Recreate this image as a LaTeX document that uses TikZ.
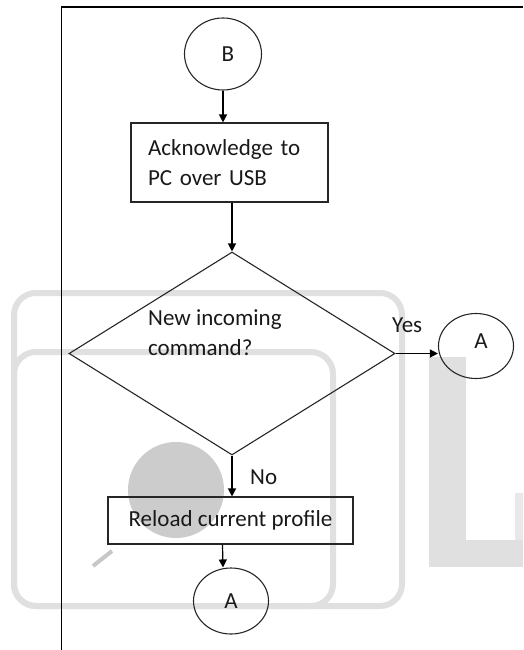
\documentclass[tikz,border=0pt]{standalone}
\usepackage{fontspec}
\setmainfont{Carlito}
\usetikzlibrary{shapes.geometric,arrows.meta,calc}
\begin{document}
\begin{tikzpicture}[x=1pt,y=-1pt,
  every node/.style={font=\fontsize{23}{30}\selectfont, text=black!90},
  shp/.style={draw=black!85, line width=1.1pt},
  proc/.style={shp, rectangle, inner sep=0pt},
  conn/.style={shp, ellipse, inner sep=0pt},
  flow/.style={draw=black, line width=1.2pt, -{Triangle[length=8pt,width=8pt]}},
  wm/.style={draw=black!12, line width=6pt, rounded corners=22pt},
  lab/.style={inner sep=0pt, anchor=base west}
]
\useasboundingbox (0,0) rectangle (523,650);
% faint watermark in the background
\fill[black!20] (176,490) circle (48pt);
\draw[wm] (14,293) rectangle (402,606);
\draw[wm] (14,352) rectangle (333,606);
\fill[black!12] (429,357) rectangle (466,567);
\fill[black!12] (466,540) rectangle (523,567);
\fill[black!9] (515,493) rectangle (523,540);
\draw[black!22, line width=4pt] (93,566) -- (112,551);
% frame
\draw[line width=1.6pt] (61.5,650) -- (61.5,7.3) -- (523,7.3);
% flowchart
\node[conn, minimum width=77pt, minimum height=72pt] (B) at (223,54) {\hspace*{10pt}B};
\node[proc, minimum width=197pt, minimum height=79pt, text width=163pt, align=left] (ack) at (229.5,162.5) {Acknowledge to\\PC over USB};
\node[diamond, shp, minimum width=326pt, minimum height=203pt, inner sep=0pt] (dec) at (232,353.5) {};
\node[lab, align=left] (dect) at (148,355) {New incoming\\command?};
\node[conn, minimum width=75pt, minimum height=65pt] (A1) at (476,346) {\hspace*{10pt}\raisebox{10pt}{A}};
\node[lab] (yes) at (392,332) {Yes};
\node[lab] (no) at (250,484) {No};
\node[proc, minimum width=245pt, minimum height=47pt] (rel) at (230.5,520.5) {Reload current profile};
\node[conn, minimum width=75pt, minimum height=66pt] (A2) at (231,601) {A};
\draw[flow] (B.south) -- (B.south |- ack.north);
\draw[flow] (dec.north |- ack.south) -- (dec.north);
\draw[flow] (dec.east) -- (dec.east -| A1.west);
\draw[flow] (dec.south) -- (dec.south |- rel.north);
\draw[flow] ([xshift=-8pt]rel.south) -- ([xshift=-8pt]A2.north);
\end{tikzpicture}
\end{document}
